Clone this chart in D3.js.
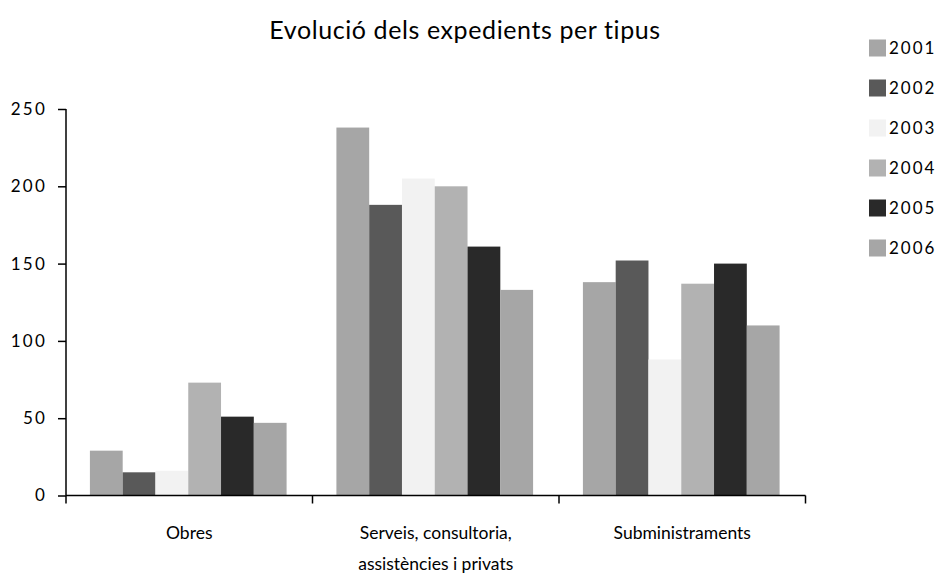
<!DOCTYPE html>
<html><head><meta charset="utf-8">
<script src="https://cdn.jsdelivr.net/npm/d3@7"></script>
<style>body{margin:0;background:#fff;}svg{display:block;font-family:Lato, "Open Sans", sans-serif;}</style>
</head><body>
<svg id="chart" width="941" height="576"></svg>
<script>
const categories = [["Obres"], ["Serveis, consultoria,", "assistències i privats"], ["Subministraments"]];
const years = ["2001", "2002", "2003", "2004", "2005", "2006"];
const colors = ["#a6a6a6", "#595959", "#f2f2f2", "#b2b2b2", "#292929", "#a6a6a6"];
const v2001 = [29, 238, 138];
const v2002 = [15, 188, 152];
const v2003 = [16, 205, 88];
const v2004 = [73, 200, 137];
const v2005 = [51, 161, 150];
const v2006 = [47, 133, 110];
const yTicks = [0, 50, 100, 150, 200, 250];
const seriesValues = [v2001, v2002, v2003, v2004, v2005, v2006];

const svg = d3.select("#chart");
const catKeys = categories.map((c, i) => i);
const x0 = d3.scaleBand().domain(catKeys).range([66, 805.5]).paddingInner(0).paddingOuter(0);
const x1 = d3.scaleBand().domain(years).range([0, x0.bandwidth()]).paddingInner(0).paddingOuter(0.76);
const y = d3.scaleLinear().domain([0, 250]).range([495.5, 109]);

// bars
catKeys.forEach(ci => {
  const g = svg.append("g").attr("transform", `translate(${x0(ci) - 1},0)`);
  years.forEach((yr, si) => {
    const v = seriesValues[si][ci];
    g.append("rect")
      .attr("x", x1(yr)).attr("width", x1.bandwidth())
      .attr("y", y(v)).attr("height", y(0) - y(v))
      .attr("fill", colors[si]);
  });
});

// y axis
const yAxis = svg.append("g").attr("transform", "translate(66,0)")
  .call(d3.axisLeft(y).tickValues(yTicks).tickSize(8).tickPadding(11));
yAxis.selectAll("path, line").attr("stroke", "#000").attr("stroke-width", 1.5);
yAxis.select(".domain").attr("d", `M0,${y(250)}V${y(0)}`);
yAxis.selectAll("text").attr("font-size", 17).attr("fill", "#000")
  .attr("font-family", "Lato, sans-serif").attr("letter-spacing", 2.2);

// x axis
const xAxisG = svg.append("g").attr("transform", `translate(0,${y(0)})`);
xAxisG.append("line").attr("x1", 66).attr("x2", 805.5).attr("y1", 0).attr("y2", 0)
  .attr("stroke", "#000").attr("stroke-width", 1.5);
const bounds = catKeys.map(ci => x0(ci)).concat([x0(catKeys[catKeys.length - 1]) + x0.bandwidth()]);
xAxisG.selectAll("line.tk").data(bounds).enter().append("line").attr("class", "tk")
  .attr("x1", d => d).attr("x2", d => d).attr("y1", 0).attr("y2", 8)
  .attr("stroke", "#000").attr("stroke-width", 1.5);
catKeys.forEach(ci => {
  const t = svg.append("text").attr("x", x0(ci) + x0.bandwidth() / 2).attr("y", 539)
    .attr("text-anchor", "middle").attr("font-size", 17.5).attr("fill", "#000");
  categories[ci].forEach((line, li) => {
    t.append("tspan").attr("x", x0(ci) + x0.bandwidth() / 2).attr("dy", li === 0 ? 0 : 31).text(line);
  });
});

// title
svg.append("text").attr("x", 465).attr("y", 39).attr("text-anchor", "middle")
  .attr("font-size", 25).attr("letter-spacing", 0.6).attr("fill", "#000")
  .text("Evolució dels expedients per tipus");

// legend
const leg = svg.append("g");
years.forEach((yr, i) => {
  const cy = 48 + i * 40;
  leg.append("rect").attr("x", 869).attr("y", cy - 8.5).attr("width", 17).attr("height", 17).attr("fill", colors[i]);
  leg.append("text").attr("x", 889).attr("y", cy + 6).attr("font-size", 17).attr("letter-spacing", 2)
    .attr("fill", "#000").text(yr);
});
</script>
</body></html>
